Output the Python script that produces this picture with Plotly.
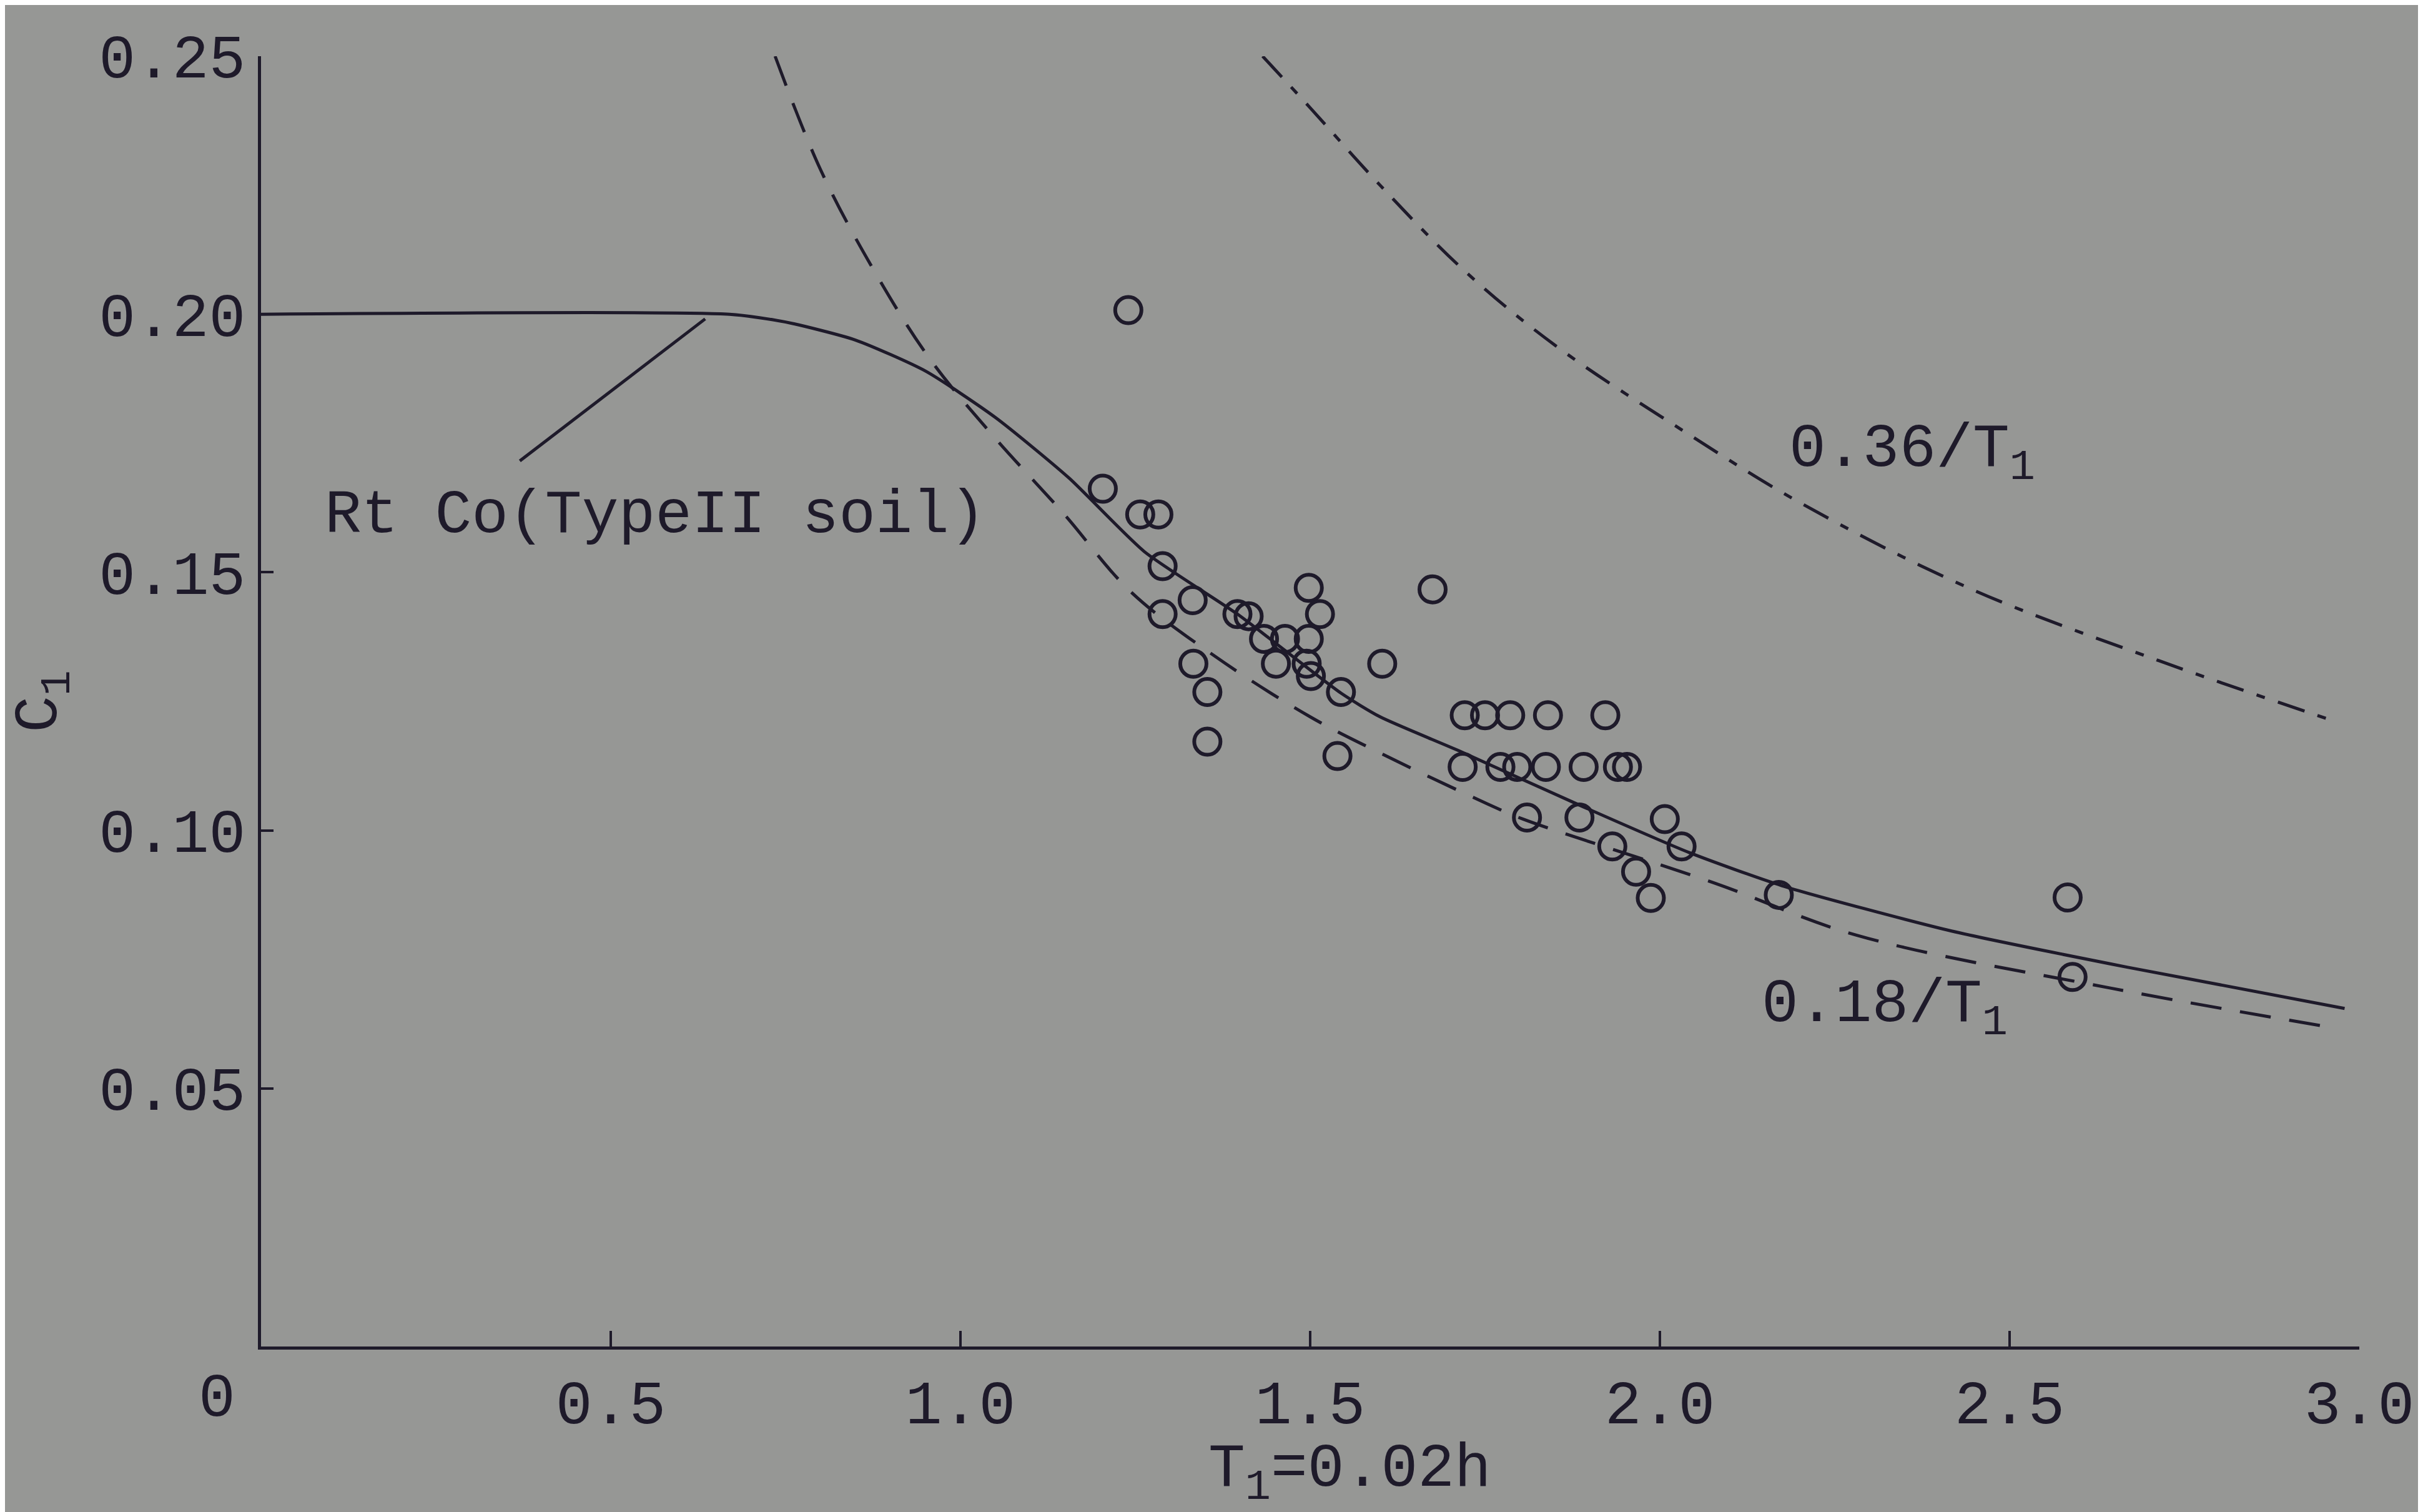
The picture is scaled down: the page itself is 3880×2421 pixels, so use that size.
import plotly.graph_objects as go

# ---- data ----
obs_x = [1.240, 1.2035, 1.257, 1.283, 1.289, 1.332, 1.289, 1.396, 1.412, 1.434, 1.464, 1.498,
         1.498, 1.514, 1.451, 1.495, 1.501, 1.333, 1.353, 1.353, 1.544, 1.539, 1.603, 1.675,
         1.721, 1.750, 1.786, 1.840, 1.922,
         1.718, 1.772, 1.796, 1.837, 1.891, 1.940, 1.953,
         1.810, 1.885, 1.932, 2.007, 2.031, 1.966, 1.987, 2.170, 2.583, 2.590]
obs_y = [0.2008, 0.1662, 0.1612, 0.1612, 0.1512, 0.1446, 0.1419, 0.1419, 0.1415, 0.1371, 0.1371, 0.1371,
         0.1470, 0.1419, 0.1323, 0.1323, 0.1299, 0.1323, 0.1268, 0.1172, 0.1268, 0.1144, 0.1323, 0.1467,
         0.1223, 0.1223, 0.1223, 0.1223, 0.1223,
         0.1123, 0.1123, 0.1123, 0.1123, 0.1123, 0.1123, 0.1123,
         0.1025, 0.1025, 0.0969, 0.1022, 0.0969, 0.0920, 0.0869, 0.0875, 0.0870, 0.0716]

rtco_x = [0, 0.67, 0.75, 0.85, 0.95, 1.05, 1.155, 1.263, 1.396, 1.544, 1.6, 1.713, 1.885,
          2.042, 2.174, 2.417, 2.668, 2.979]
rtco_y = [0.200, 0.200, 0.1985, 0.195, 0.189, 0.180, 0.1683, 0.154, 0.1419, 0.1266, 0.122, 0.1154,
          0.1049, 0.0957, 0.0893, 0.0805, 0.0735, 0.0655]

c018_x = [0.735, 0.80, 0.875, 0.956, 1.045, 1.148, 1.243, 1.36, 1.50, 1.60, 1.754, 1.804,
          2.076, 2.281, 2.642, 2.961]
c018_y = [0.250, 0.228, 0.2088, 0.1914, 0.1767, 0.1613, 0.1463, 0.1341, 0.122, 0.115, 0.1051,
          0.1022, 0.0899, 0.0797, 0.0695, 0.0618]

c036_x = [1.432, 1.50, 1.60, 1.72, 1.85, 2.044, 2.203, 2.446, 2.713, 2.957]
c036_y = [0.250, 0.240, 0.225, 0.2085, 0.194, 0.1765, 0.1633, 0.1467, 0.1329, 0.1215]

leader_x = [0.370, 0.635]
leader_y = [0.1716, 0.1991]

x_ticks = [0.5, 1.0, 1.5, 2.0, 2.5, 3.0]
x_ticktext = ["0.5", "1.0", "1.5", "2.0", "2.5", "3.0"]
y_ticks = [0.05, 0.10, 0.15, 0.20, 0.25]
y_ticktext = ["0.05", "0.10", "0.15", "0.20", "0.25"]

INK = "#1e1a2a"
BG = "rgb(150,151,149)"
FONT = "Liberation Mono"
FS = 98

fig = go.Figure()
fig.add_trace(go.Scatter(x=rtco_x, y=rtco_y, mode="lines",
                         line=dict(color=INK, width=5, shape="spline", smoothing=0.6)))
fig.add_trace(go.Scatter(x=c018_x, y=c018_y, mode="lines",
                         line=dict(color=INK, width=5, shape="spline", dash="50px,30px")))
fig.add_trace(go.Scatter(x=c036_x, y=c036_y, mode="lines",
                         line=dict(color=INK, width=5, shape="spline", dash="45px,22px,14px,22px")))
fig.add_trace(go.Scatter(x=leader_x, y=leader_y, mode="lines", line=dict(color=INK, width=5)))
fig.add_trace(go.Scatter(x=obs_x, y=obs_y, mode="markers",
                         marker=dict(symbol="circle-open", size=42, color=INK,
                                     line=dict(width=6, color=INK))))

fig.update_layout(
    width=3880, height=2421,
    margin=dict(l=410, r=110, t=82, b=273),
    paper_bgcolor=BG, plot_bgcolor=BG,
    showlegend=False,
    font=dict(family=FONT, size=FS, color=INK),
    xaxis=dict(range=[0, 3.0], tickvals=x_ticks, ticktext=x_ticktext, showgrid=False, zeroline=False,
               showline=True, linecolor=INK, linewidth=5, ticks="inside", ticklen=25, tickwidth=4,
               tickcolor=INK, ticklabelstandoff=0),
    yaxis=dict(range=[0, 0.25], tickvals=y_ticks, ticktext=y_ticktext, showgrid=False, zeroline=False,
               showline=True, linecolor=INK, linewidth=5, ticks="inside", ticklen=20, tickwidth=4,
               tickcolor=INK, ticklabelstandoff=0,
               title=dict(text="C<sub>1</sub>", font=dict(size=FS), standoff=45)),
    annotations=[
        dict(x=0.564, y=0.161, xref="x", yref="y", text="Rt Co(TypeII soil)", showarrow=False,
             font=dict(size=FS)),
        dict(x=2.361, y=0.173, xref="x", yref="y", text="0.36/T<sub>1</sub>", showarrow=False,
             font=dict(size=FS)),
        dict(x=2.321, y=0.0655, xref="x", yref="y", text="0.18/T<sub>1</sub>", showarrow=False,
             font=dict(size=FS)),
        dict(x=-0.0211, y=-0.041, xref="paper", yref="paper", text="0", showarrow=False,
             xanchor="center", yanchor="middle", font=dict(size=FS)),
        dict(x=0.519, y=-0.0983, xref="paper", yref="paper", text="T<sub>1</sub>=0.02h",
             showarrow=False, xanchor="center", yanchor="middle", font=dict(size=FS)),
    ],
)

fig.write_html("out.html")
